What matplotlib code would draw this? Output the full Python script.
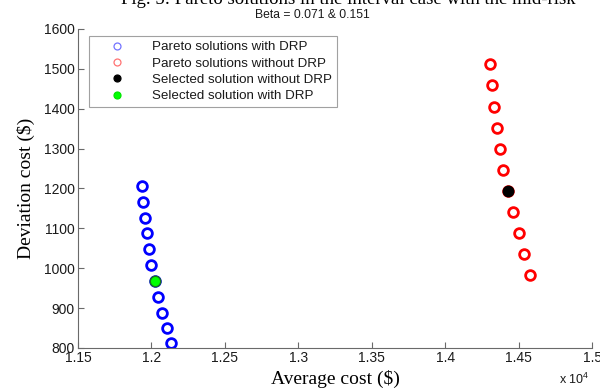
import numpy as np
import matplotlib
matplotlib.use('Agg')
import matplotlib.pyplot as plt
from matplotlib.lines import Line2D
from matplotlib.ticker import FuncFormatter

#dados (custo medio em $, custo de desvio em $)
custo_medio_com_drp = [11934, 11945, 11956, 11968, 11981, 11997, 12024, 12047, 12074, 12104, 12131]
desvio_com_drp = [1206, 1165, 1126, 1088, 1048, 1008, 969, 929, 889, 850, 812]

custo_medio_sem_drp = [14305, 14319, 14333, 14351, 14374, 14396, 14430, 14462, 14501, 14537, 14578]
desvio_sem_drp = [1511, 1459, 1405, 1352, 1300, 1247, 1194, 1141, 1088, 1036, 982]

#indice da solucao escolhida em cada conjunto
escolhida = 6

x_ticks = [11500, 12000, 12500, 13000, 13500, 14000, 14500, 15000]
y_ticks = [800, 900, 1000, 1100, 1200, 1300, 1400, 1500, 1600]

legendas = ['Pareto solutions with DRP', 'Pareto solutions without DRP',
            'Selected solution without DRP', 'Selected solution with DRP']

plt.rcParams['font.family'] = ['Liberation Sans', 'DejaVu Sans']
plt.rcParams['mathtext.fontset'] = 'custom'
plt.rcParams['mathtext.rm'] = 'Liberation Sans'

fig = plt.figure(figsize=(6, 3.89), dpi=100)
ax = fig.add_axes([0.13, 0.1054, 0.857, 0.8201])

#pontos de pareto
ax.plot(custo_medio_com_drp, desvio_com_drp, 'o', mfc='white', mec=(0, 0, 1),
        ms=7.0, mew=2.0, linestyle='none')
ax.plot(custo_medio_sem_drp, desvio_sem_drp, 'o', mfc='white', mec=(1, 0, 0),
        ms=7.0, mew=2.0, linestyle='none')

#solucoes selecionadas
ax.plot(custo_medio_sem_drp[escolhida], desvio_sem_drp[escolhida], 'o', mfc='black',
        mec='black', ms=7.5, mew=1.0)
ax.plot(custo_medio_com_drp[escolhida], desvio_com_drp[escolhida], 'o', mfc=(0, 1, 0),
        mec=(0.1, 0.45, 0.1), ms=7.5, mew=1.0)

ax.set_xlim(11500, 15000)
ax.set_ylim(800, 1600)
ax.set_xticks(x_ticks)
ax.set_yticks(y_ticks)
ax.xaxis.set_major_formatter(FuncFormatter(lambda v, p: '%g' % (v / 1e4)))

for lado in ['top', 'right']:
    ax.spines[lado].set_visible(False)
for lado in ['left', 'bottom']:
    ax.spines[lado].set_color('#6a6a6a')
    ax.spines[lado].set_linewidth(0.8)
ax.tick_params(direction='in', length=4, width=0.8, color='#6a6a6a',
               labelsize=10, labelcolor='#1a1a1a', pad=2.5)

ax.set_xlabel('Average cost ($)', family='Liberation Serif', fontsize=14, labelpad=3)
ax.set_ylabel('Deviation cost ($)', family='Liberation Serif', fontsize=14, labelpad=6)

fig.text(0.52, 0.962, 'Beta = 0.071 & 0.151', ha='center', va='center', fontsize=8.7,
         color='#1a1a1a')
fig.text(0.983, 0.004, r'x 10$^{4}$', ha='right', va='bottom', fontsize=9, color='#1a1a1a')

#legenda do artigo cortada no topo
fig.text(0.58, 0.991, 'Fig. 5: Pareto solutions in the interval case with the mid-risk',
         ha='center', va='baseline', family='Liberation Serif', fontsize=13.5)

#legenda
handles = [
    Line2D([], [], marker='o', linestyle='none', mfc='white', mec=(0.45, 0.45, 1), ms=5, mew=0.9),
    Line2D([], [], marker='o', linestyle='none', mfc='white', mec=(1, 0.45, 0.45), ms=5, mew=0.9),
    Line2D([], [], marker='o', linestyle='none', mfc='black', mec='black', ms=5, mew=0.9),
    Line2D([], [], marker='o', linestyle='none', mfc=(0, 1, 0), mec=(0, 0.9, 0), ms=5, mew=0.9),
]
leg = ax.legend(handles, legendas, loc='upper left', bbox_to_anchor=(0.0214, 0.978),
                fontsize=9.6, frameon=True, fancybox=False, borderpad=0.38,
                labelspacing=0.3, handletextpad=0.85, handlelength=3.5,
                borderaxespad=0.0)
leg.get_frame().set_edgecolor('#8a8a8a')
leg.get_frame().set_linewidth(0.8)
for t in leg.get_texts():
    t.set_color('#1a1a1a')

fig.savefig('out.png', dpi=100)
